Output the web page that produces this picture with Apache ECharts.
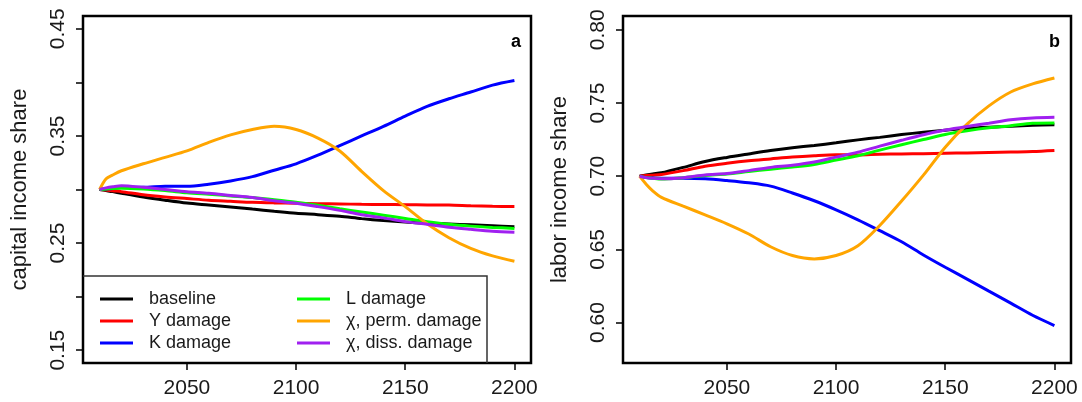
<!DOCTYPE html>
<html>
<head>
<meta charset="utf-8">
<title>Income shares under climate damages</title>
<script src="https://cdn.jsdelivr.net/npm/echarts@6/dist/echarts.min.js"></script>
<style>
  html, body { margin: 0; padding: 0; background: #fff; }
  #chart { width: 1082px; height: 402px; }
</style>
</head>
<body>
<div id="chart"></div>
<script>
// Simulation years (shared by every scenario)
const years = [2010, 2013, 2016, 2020, 2030, 2040, 2050, 2060, 2070, 2080, 2090,
               2100, 2110, 2120, 2130, 2140, 2150, 2160, 2170, 2180, 2190, 2200];

// Capital income share by scenario
const capBaseline = [0.300, 0.299, 0.298, 0.2965, 0.293, 0.290, 0.2873, 0.2855, 0.2837, 0.2817, 0.2797,
                     0.2778, 0.2765, 0.2750, 0.2728, 0.2710, 0.2696, 0.2686, 0.2678, 0.2670, 0.2661, 0.2652];
const capY        = [0.300, 0.2995, 0.2988, 0.298, 0.295, 0.293, 0.2915, 0.290, 0.289, 0.288, 0.2875,
                     0.2872, 0.2868, 0.2865, 0.2862, 0.286, 0.2858, 0.2856, 0.2855, 0.2848, 0.2843, 0.2842];
const capK        = [0.300, 0.3005, 0.301, 0.302, 0.302, 0.303, 0.303, 0.305, 0.308, 0.312, 0.318,
                     0.324, 0.332, 0.341, 0.350, 0.359, 0.3685, 0.3776, 0.3847, 0.391, 0.3975, 0.4018];
const capL        = [0.300, 0.3005, 0.301, 0.3012, 0.3005, 0.299, 0.297, 0.2955, 0.294, 0.2925, 0.2905,
                     0.2882, 0.2852, 0.282, 0.279, 0.276, 0.273, 0.270, 0.2675, 0.2658, 0.2646, 0.2637];
const capChiPerm  = [0.300, 0.310, 0.3135, 0.3175, 0.324, 0.330, 0.336, 0.344, 0.351, 0.356, 0.359,
                     0.356, 0.348, 0.336, 0.317, 0.299, 0.284, 0.268, 0.255, 0.245, 0.238, 0.233];
const capChiDiss  = [0.300, 0.3015, 0.3025, 0.3035, 0.302, 0.300, 0.298, 0.2965, 0.2945, 0.2925, 0.2895,
                     0.2872, 0.284, 0.2805, 0.2765, 0.2735, 0.270, 0.2675, 0.2648, 0.2628, 0.261, 0.260];

// Labor income share by scenario
const labBaseline = [0.700, 0.7008, 0.7015, 0.7023, 0.706, 0.710, 0.7128, 0.7152, 0.7175, 0.7194, 0.7210,
                     0.7228, 0.7248, 0.7265, 0.7284, 0.7300, 0.7314, 0.7327, 0.7335, 0.7341, 0.7348, 0.7352];
const labY        = [0.700, 0.7004, 0.7007, 0.7012, 0.7038, 0.7068, 0.7088, 0.7105, 0.7118, 0.7131, 0.7140,
                     0.7146, 0.7145, 0.7150, 0.7152, 0.7154, 0.7157, 0.7159, 0.7162, 0.7165, 0.7168, 0.7175];
const labK        = [0.700, 0.699, 0.6987, 0.6986, 0.6986, 0.6982, 0.697, 0.6955, 0.6932, 0.6885, 0.6832,
                     0.6770, 0.6702, 0.6628, 0.6552, 0.6462, 0.6378, 0.6297, 0.6215, 0.6133, 0.605, 0.598];
const labL        = [0.700, 0.699, 0.6985, 0.698, 0.699, 0.7005, 0.7015, 0.7032, 0.7048, 0.7063, 0.708,
                     0.711, 0.714, 0.7178, 0.7215, 0.725, 0.7285, 0.731, 0.733, 0.7345, 0.7362, 0.7364];
const labChiPerm  = [0.700, 0.6945, 0.690, 0.6855, 0.6795, 0.6736, 0.6675, 0.6605, 0.6518, 0.6458, 0.6435,
                     0.6458, 0.6525, 0.6663, 0.683, 0.7007, 0.7198, 0.7355, 0.748, 0.7575, 0.763, 0.7671];
const labChiDiss  = [0.700, 0.699, 0.6985, 0.6982, 0.699, 0.7008, 0.7018, 0.7038, 0.706, 0.7075, 0.7097,
                     0.713, 0.7164, 0.7205, 0.7245, 0.7283, 0.7315, 0.734, 0.7362, 0.7385, 0.7398, 0.7403];

// Axis ticks and labels
const xTicks = [2050, 2100, 2150, 2200];
const capTicks = [0.15, 0.20, 0.25, 0.30, 0.35, 0.40, 0.45];
const capLabels = [0.15, 0.25, 0.35, 0.45];
const labTicks = [0.60, 0.65, 0.70, 0.75, 0.80];

const scenarioNames = ['baseline', 'Y damage', 'K damage', 'L damage', 'χ, perm. damage', 'χ, diss. damage'];
const scenarioColors = ['#000000', '#ff0000', '#0000ff', '#00ff00', '#ffa500', '#a020f0'];
const capSeries = [capBaseline, capY, capK, capL, capChiPerm, capChiDiss];
const labSeries = [labBaseline, labY, labK, labL, labChiPerm, labChiDiss];

const FONT = 'Liberation Sans, Arial, sans-serif';
const TEXT = '#1a1a1a';

function xAxisFor(gridIndex) {
  return {
    type: 'value', gridIndex: gridIndex, min: 2002.4, max: 2207.6,
    axisLine: { show: false },
    splitLine: { show: false },
    axisTick: { show: true, length: 7, lineStyle: { color: '#000', width: 1.5 }, customValues: xTicks },
    axisLabel: {
      customValues: xTicks, fontSize: 21, color: TEXT, margin: 15, fontFamily: FONT,
      formatter: v => String(Math.round(v))
    }
  };
}

function yAxisFor(gridIndex, min, max, ticks, labels, name) {
  return {
    type: 'value', gridIndex: gridIndex, min: min, max: max,
    name: name, nameLocation: 'middle', nameRotate: 90, nameGap: 52,
    nameTextStyle: { fontSize: 22, color: TEXT, fontFamily: FONT },
    axisLine: { show: false },
    splitLine: { show: false },
    axisTick: { show: true, length: 7, lineStyle: { color: '#000', width: 1.5 }, customValues: ticks },
    axisLabel: {
      customValues: labels, rotate: 90, fontSize: 21, color: TEXT, margin: 14, fontFamily: FONT,
      formatter: v => v.toFixed(2)
    }
  };
}

function linesFor(values, axisIndex) {
  return values.map((vals, i) => ({
    name: scenarioNames[i],
    type: 'line',
    xAxisIndex: axisIndex, yAxisIndex: axisIndex,
    data: years.map((yr, j) => [yr, vals[j]]),
    showSymbol: false,
    smooth: 0.3,
    color: scenarioColors[i],
    lineStyle: { width: 3, color: scenarioColors[i] },
    emphasis: { disabled: true }
  }));
}

function legendFor(names, left) {
  return {
    data: names, orient: 'vertical', left: left, top: 290,
    itemWidth: 33, itemHeight: 3, itemGap: 4, icon: 'rect', padding: 0,
    selectedMode: false,
    textStyle: { fontSize: 18, color: TEXT, fontFamily: FONT, padding: [0, 0, 0, 11] }
  };
}

const chart = echarts.init(document.getElementById('chart'), null, { renderer: 'canvas' });
chart.setOption({
  animation: false,
  backgroundColor: '#fff',
  grid: [
    { left: 83, top: 16, width: 448, height: 347, show: true, borderColor: '#000', borderWidth: 2.5, outerBoundsMode: 'none' },
    { left: 623, top: 16, width: 448, height: 347, show: true, borderColor: '#000', borderWidth: 2.5, outerBoundsMode: 'none' }
  ],
  xAxis: [xAxisFor(0), xAxisFor(1)],
  yAxis: [
    yAxisFor(0, 0.138, 0.462, capTicks, capLabels, 'capital income share'),
    yAxisFor(1, 0.5724, 0.8094, labTicks, labTicks, 'labor income share')
  ],
  legend: [
    legendFor(scenarioNames.slice(0, 3), 100),
    legendFor(scenarioNames.slice(3), 297)
  ],
  graphic: [
    {
      type: 'polyline', silent: true,
      shape: { points: [[83, 276], [487, 276], [487, 363]] },
      style: { stroke: '#333', lineWidth: 1.5, fill: null }
    },
    { type: 'text', left: 511, top: 33, silent: true,
      style: { text: 'a', fontSize: 18, fontWeight: 'bold', fill: '#000', fontFamily: FONT } },
    { type: 'text', left: 1049, top: 33, silent: true,
      style: { text: 'b', fontSize: 18, fontWeight: 'bold', fill: '#000', fontFamily: FONT } }
  ],
  series: linesFor(capSeries, 0).concat(linesFor(labSeries, 1))
});
</script>
</body>
</html>
